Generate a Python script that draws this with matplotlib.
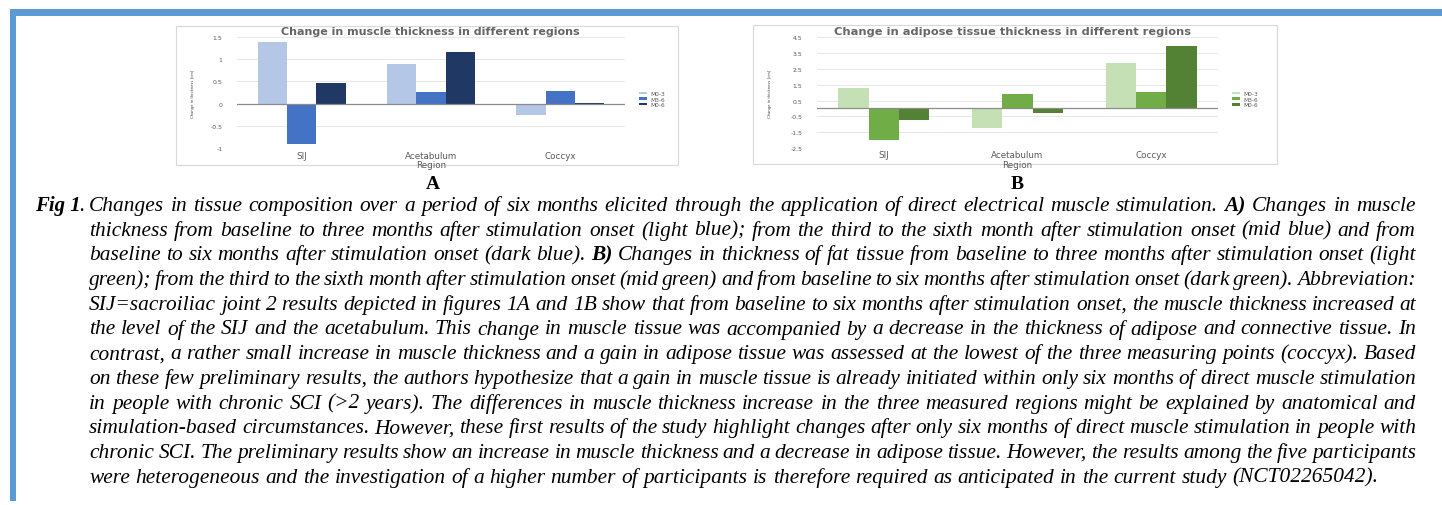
import matplotlib
matplotlib.use("Agg")
import matplotlib.pyplot as plt
import matplotlib.patches as patches
import numpy as np

# ---------------- data ----------------
regions = ["SIJ", "Acetabulum", "Coccyx"]
series_names = ["M0-3", "M3-6", "M0-6"]
muscle_0_3 = [1.38, 0.88, -0.26]
muscle_3_6 = [-0.91, 0.27, 0.29]
muscle_0_6 = [0.46, 1.16, 0.01]
adipose_0_3 = [1.29, -1.23, 2.90]
adipose_3_6 = [-2.01, 0.91, 1.06]
adipose_0_6 = [-0.72, -0.30, 3.98]
muscle_ticks = [-1, -0.5, 0, 0.5, 1, 1.5]
adipose_ticks = [-2.5, -1.5, -0.5, 0.5, 1.5, 2.5, 3.5, 4.5]
title_A = "Change in muscle thickness in different regions"
title_B = "Change in adipose tissue thickness in different regions"
ylab = "Change in thickness [cm]"
xlab = "Region"

caption_lines = [
    "Changes in tissue composition over a period of six months elicited through the application of direct electrical muscle stimulation. **A)** Changes in muscle",
    "thickness from baseline to three months after stimulation onset (light blue); from the third to the sixth month after stimulation onset (mid blue) and from",
    "baseline to six months after stimulation onset (dark blue). **B)** Changes in thickness of fat tissue from baseline to three months after stimulation onset (light",
    "green); from the third to the sixth month after stimulation onset (mid green) and from baseline to six months after stimulation onset (dark green). Abbreviation:",
    "SIJ=sacroiliac joint 2 results depicted in figures 1A and 1B show that from baseline to six months after stimulation onset, the muscle thickness increased at",
    "the level of the SIJ and the acetabulum. This change in muscle tissue was accompanied by a decrease in the thickness of adipose and connective tissue. In",
    "contrast, a rather small increase in muscle thickness and a gain in adipose tissue was assessed at the lowest of the three measuring points (coccyx). Based",
    "on these few preliminary results, the authors hypothesize that a gain in muscle tissue is already initiated within only six months of direct muscle stimulation",
    "in people with chronic SCI (>2 years). The differences in muscle thickness increase in the three measured regions might be explained by anatomical and",
    "simulation-based circumstances. However, these first results of the study highlight changes after only six months of direct muscle stimulation in people with",
    "chronic SCI. The preliminary results show an increase in muscle thickness and a decrease in adipose tissue. However, the results among the five participants",
    "were heterogeneous and the investigation of a higher number of participants is therefore required as anticipated in the current study (NCT02265042).",
]

blues = ["#B4C7E7", "#4472C4", "#203864"]
greens = ["#C5E0B4", "#70AD47", "#548235"]

W, H = 1442, 506
fig = plt.figure(figsize=(W / 100, H / 100), dpi=100)
bg = fig.add_axes([0, 0, 1, 1], zorder=0)
bg.set_xlim(0, W)
bg.set_ylim(H, 0)
bg.axis("off")

# blue page border
bg.add_patch(patches.Rectangle((10, 10), W - 10, 6.5, color="#5B9BD5", lw=0))
bg.add_patch(patches.Rectangle((10, 10), 6, 492, color="#5B9BD5", lw=0))

# chart frames
bg.add_patch(patches.Rectangle((176, 27), 502, 139, facecolor="white",
                               edgecolor="#d9d9d9", lw=0.8))
bg.add_patch(patches.Rectangle((753, 26), 524, 139, facecolor="white",
                               edgecolor="#d9d9d9", lw=0.8))


def fig_axes(x0, y0, x1, y1):
    return fig.add_axes([x0 / W, 1 - y1 / H, (x1 - x0) / W, (y1 - y0) / H], zorder=2)


def fmt(v):
    return ("%g" % v)


def bar_chart(ax, s1, s2, s3, colors, ticks, ylim, ylabel_x):
    x = np.arange(len(regions))
    bw = 0.227
    for off, vals, c, n in zip([-bw, 0, bw], [s1, s2, s3], colors, series_names):
        ax.bar(x + off, vals, width=bw, color=c, label=n, zorder=3)
    ax.set_xlim(-0.5, len(regions) - 0.5)
    ax.set_ylim(*ylim)
    ax.set_yticks(ticks)
    ax.set_yticklabels([fmt(t) for t in ticks])
    ax.yaxis.grid(True, color="#e3e3e3", lw=0.6, zorder=0)
    ax.axhline(0, color="#8c8c8c", lw=0.9, zorder=4)
    for s in ax.spines.values():
        s.set_visible(False)
    ax.set_facecolor("white")
    ax.tick_params(axis="y", length=0, pad=10.5, labelsize=4.4, labelcolor="#595959")
    ax.tick_params(axis="x", length=0, pad=1.8, labelsize=6.3, labelcolor="#595959")
    ax.set_xticks(x)
    ax.set_xticklabels(regions)
    ax.set_xlabel(xlab, fontsize=6.3, color="#595959", labelpad=0.0)
    ax.set_ylabel(ylab, fontsize=2.7, color="#404040")
    ax.yaxis.set_label_coords(ylabel_x, 0.5)
    leg = ax.legend(loc="center left", bbox_to_anchor=(1.028, 0.44), frameon=False,
                    fontsize=4.2, handlelength=1.4, handleheight=0.3,
                    labelspacing=0.1, handletextpad=0.6, borderpad=0)
    for t in leg.get_texts():
        t.set_color("#595959")


axA = fig_axes(237, 37.7, 625, 149.3)
bar_chart(axA, muscle_0_3, muscle_3_6, muscle_0_6, blues, muscle_ticks, (-1, 1.5), -0.108)
axB = fig_axes(817, 38.3, 1218, 149.0)
bar_chart(axB, adipose_0_3, adipose_3_6, adipose_0_6, greens, adipose_ticks, (-2.5, 4.5), -0.112)

bg.text(430, 32, title_A, ha="center", va="center", fontsize=8.0, weight="bold", color="#666666")
bg.text(1013, 32, title_B, ha="center", va="center", fontsize=8.2, weight="bold", color="#666666")

# panel letters
bg.text(433, 184, "A", ha="center", va="center", fontsize=14, weight="bold",
        family="Liberation Serif", color="black")
bg.text(1017, 184, "B", ha="center", va="center", fontsize=14, weight="bold",
        family="Liberation Serif", color="black")

# ---------------- caption (justified) ----------------
renderer = fig.canvas.get_renderer()
SERIF = "Liberation Serif"


def text_w(s, size, weight="normal"):
    t = bg.text(0, 0, s, fontsize=size, family=SERIF, style="italic", weight=weight)
    w = t.get_window_extent(renderer).width
    t.remove()
    return w


left_x = 89
right_x = 1416
# font size chosen so that the final (unjustified) line ends where the reference does
base = 12.0
fs = base * (1375 - left_x) / text_w(caption_lines[-1], base)

baseline0 = 211
spacing = 24.7


def parse(line):
    words = []
    for w in line.split(" "):
        if w.startswith("**") and w.endswith("**"):
            words.append((w[2:-2], "bold"))
        else:
            words.append((w, "normal"))
    return words


for i, line in enumerate(caption_lines):
    y = baseline0 + i * spacing
    words = parse(line)
    widths = [text_w(w, fs, wt) for w, wt in words]
    if i < len(caption_lines) - 1:
        gap = (right_x - left_x - sum(widths)) / (len(words) - 1)
    else:
        gap = text_w("a a", fs) - 2 * text_w("a", fs)
    x = left_x
    for (w, wt), ww in zip(words, widths):
        bg.text(x, y, w, fontsize=fs, family=SERIF, style="italic", weight=wt,
                ha="left", va="baseline", color="black")
        x += ww + gap
    if i == 0:
        pfs = fs * 0.97
        fig_w = text_w("Fig 1", pfs, "bold")
        dot_w = text_w(".", pfs)
        px = left_x - 5 - (fig_w - 1.5 + dot_w)
        bg.text(px, y, "Fig 1", fontsize=pfs, family=SERIF, style="italic",
                weight="bold", ha="left", va="baseline", color="black")
        bg.text(px + fig_w - 1.5, y, ".", fontsize=pfs, family=SERIF, style="italic",
                ha="left", va="baseline", color="black")

fig.savefig("out.png", dpi=100)
